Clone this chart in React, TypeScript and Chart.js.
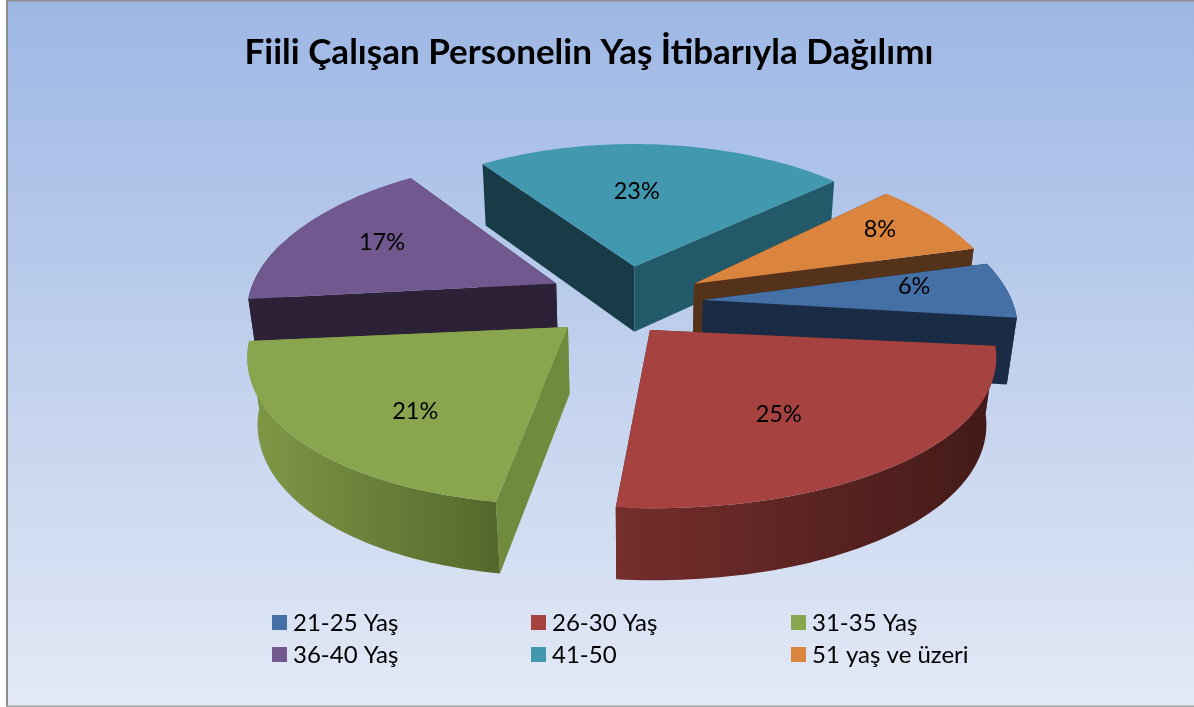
import { useEffect, useRef } from "react";
import { Chart, registerables } from "chart.js";

Chart.register(...registerables);

const chartTitle = "Fiili Çalışan Personelin Yaş İtibarıyla Dağılımı";
const categories = ["21-25 Yaş", "26-30 Yaş", "31-35 Yaş", "36-40 Yaş", "41-50", "51 yaş ve üzeri"];
const shares = [6, 25, 21, 17, 23, 8];
const pullX = [0.243, 0.069, -0.189, -0.237, 0.022, 0.218];
const pullY = [0.014, 0.213, 0.194, -0.1, -0.222, -0.098];
const stretchX = [1, 1.07, 0.99, 1, 1, 1];
const twistDeg = [0, -1, 2.5, 1.5, 1.5, 0];
const topColors = ["#4470A6", "#A64341", "#89A54E", "#71588F", "#4198AF", "#DB843D"];
const rimRight = ["#1A2C45", "#421A18", "#55682C", "#2D2137", "#183C47", "#55331A"];
const rimLeft = ["#1A2C45", "#752E2C", "#7F9947", "#2D2137", "#235A69", "#55331A"];
const startWall = ["#1A2C45", "#421A18", "#708A3E", "#2D2137", "#183C47", "#55331A"];
const endWall = ["#1A2C45", "#421A18", "#708A3E", "#2D2137", "#235A69", "#55331A"];
const drawOrder = [4, 5, 3, 0, 2, 1];
const labelNudge = [[22, -7], [-6, 4], [1, 12], [-10, -8], [-12, 4], [32, -13]];
const legendColumns = [272, 531, 791];
const legendRows = [615, 647];

const cam = { cx: 628, cy: 298, R: 308, A: 146, D: 68, kx: 0.158, ky: 0.13, m: 0.026 };
const FONT = "Lato, 'Open Sans', sans-serif";

function project(u: number, v: number, z: number): [number, number] {
  return [
    cam.cx + (cam.R * u) / (1 - cam.kx * v + cam.m * z),
    cam.cy + (cam.A * v + cam.D * z) / (1 - cam.ky * v + cam.m * z),
  ];
}
function fillPoly(ctx: CanvasRenderingContext2D, pts: [number, number][], color: any) {
  ctx.beginPath();
  pts.forEach((p, i) => (i ? ctx.lineTo(p[0], p[1]) : ctx.moveTo(p[0], p[1])));
  ctx.closePath();
  ctx.fillStyle = color;
  ctx.fill();
}

const backdrop = {
  id: "backdrop",
  beforeDraw(chart: any) {
    const { ctx, width, height } = chart;
    const g = ctx.createLinearGradient(0, 0, 0, height);
    g.addColorStop(0, "#9DB7E4");
    g.addColorStop(1, "#E3E9F6");
    ctx.save();
    ctx.fillStyle = "#FFFFFF";
    ctx.fillRect(0, 0, width, height);
    ctx.fillStyle = g;
    ctx.fillRect(7, 1, width - 7, height - 2);
    ctx.fillStyle = "#8E8E8E";
    ctx.fillRect(6, 0, 2, height);
    ctx.fillRect(6, 0, width - 6, 1.5);
    ctx.fillStyle = "#A8A8A8";
    ctx.fillRect(6, height - 1.5, width - 6, 1.5);
    ctx.restore();
  },
};

const pie3d = {
  id: "pie3d",
  beforeDatasetsDraw(chart: any) {
    const { ctx } = chart;
    const arcs = chart.getDatasetMeta(0).data;
    const geo = arcs.map((arc: any, i: number) => {
      const { startAngle, endAngle } = arc.getProps(["startAngle", "endAngle"], true);
      const turn = (twistDeg[i] * Math.PI) / 180;
      return {
        start: startAngle + turn,
        end: endAngle + turn,
        mid: (startAngle + endAngle) / 2,
        ox: pullX[i],
        oy: pullY[i],
      };
    });
    ctx.save();
    drawOrder.forEach((i) => {
      const s = geo[i];
      const rim = (a: number, z: number) => {
        const c = Math.cos(a);
        const sx = stretchX[i] > 1 && c < 0 ? 1 : stretchX[i];
        return project(s.ox + sx * c, s.oy + Math.sin(a), z);
      };
      const apex0 = project(s.ox, s.oy, 0);
      const apex1 = project(s.ox, s.oy, 1);
      fillPoly(ctx, [apex0, rim(s.start, 0), rim(s.start, 1), apex1], startWall[i]);
      fillPoly(ctx, [apex0, rim(s.end, 0), rim(s.end, 1), apex1], endWall[i]);
      const steps = 64;
      const upper: [number, number][] = [];
      const outerTop: [number, number][] = [];
      const outerBottom: [number, number][] = [];
      for (let n = 0; n <= steps; n++) {
        const a = s.start + ((s.end - s.start) * n) / steps;
        upper.push(rim(a, 0));
        if (Math.sin(a) > -0.3) {
          outerTop.push(rim(a, 0));
          outerBottom.unshift(rim(a, 1));
        }
      }
      if (outerTop.length > 1) {
        const shade = ctx.createLinearGradient(rim(s.start, 0)[0], 0, rim(s.end, 0)[0], 0);
        shade.addColorStop(0, rimRight[i]);
        shade.addColorStop(1, rimLeft[i]);
        fillPoly(ctx, [...outerTop, ...outerBottom], shade);
      }
      fillPoly(ctx, [apex0, ...upper], topColors[i]);
    });
    ctx.fillStyle = "#000";
    ctx.font = `23.5px ${FONT}`;
    ctx.textAlign = "center";
    ctx.textBaseline = "middle";
    geo.forEach((s: any, i: number) => {
      const [x, y] = project(s.ox + 0.62 * Math.cos(s.mid), s.oy + 0.62 * Math.sin(s.mid), 0);
      ctx.fillText(`${shares[i]}%`, x + labelNudge[i][0], y + labelNudge[i][1]);
    });
    ctx.restore();
    return false;
  },
};

const gridLegend = {
  id: "gridLegend",
  afterDraw(chart: any) {
    const { ctx } = chart;
    ctx.save();
    ctx.font = `24px ${FONT}`;
    ctx.textBaseline = "middle";
    ctx.textAlign = "left";
    categories.forEach((name, i) => {
      const x = legendColumns[i % 3];
      const y = legendRows[Math.floor(i / 3)];
      ctx.fillStyle = topColors[i];
      ctx.fillRect(x, y, 15, 15);
      ctx.fillStyle = "#000";
      ctx.fillText(name, x + 21, y + 8);
    });
    ctx.restore();
  },
};

export default function App() {
  const ref = useRef<HTMLCanvasElement>(null);
  useEffect(() => {
    document.body.style.margin = "0";
    const chart = new Chart(ref.current!, {
      type: "pie",
      data: {
        labels: categories,
        datasets: [{ data: shares, backgroundColor: topColors }],
      },
      options: {
        responsive: false,
        animation: false,
        rotation: 75.2,
        layout: { padding: { right: 16, top: 0 } },
        plugins: {
          legend: { display: false },
          tooltip: { enabled: false },
          title: {
            display: true,
            text: chartTitle,
            color: "#000",
            font: { family: FONT, size: 35, weight: "bold" },
            padding: { top: 32, bottom: 10 },
          },
        },
      },
      plugins: [backdrop, pie3d, gridLegend],
    } as any);
    return () => chart.destroy();
  }, []);
  return <canvas ref={ref} width={1194} height={707} style={{ display: "block" }} />;
}
